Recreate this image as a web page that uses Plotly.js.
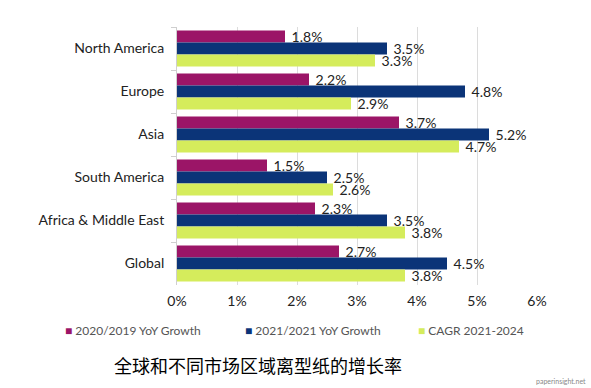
<!DOCTYPE html>
<html><head><meta charset="utf-8">
<script src="https://cdn.plot.ly/plotly-3.0.1.min.js"></script>
<style>html,body{margin:0;padding:0;background:#fff}#chart{width:591px;height:388px}</style>
</head><body><div id="chart"></div>
<script>
const regions = ["North America", "Europe", "Asia", "South America", "Africa & Middle East", "Global"];
const growth2020 = [1.8, 2.2, 3.7, 1.5, 2.3, 2.7];
const growth2021 = [3.5, 4.8, 5.2, 2.5, 3.5, 4.5];
const cagr = [3.3, 2.9, 4.7, 2.6, 3.8, 3.8];
const seriesNames = ["2020/2019 YoY Growth", "2021/2021 YoY Growth", "CAGR 2021-2024"];
const xTicks = [0, 1, 2, 3, 4, 5, 6];
const xTickLabels = ["0%", "1%", "2%", "3%", "4%", "5%", "6%"];
const chartTitle = "全球和不同市场区域离型纸的增长率";

const colors = ["#9b1567", "#0b3478", "#d5ec5c"];
const font = "Lato, 'Open Sans', sans-serif";
function mk(vals, i){
  return {type:"bar", orientation:"h", y:regions, x:vals, name:seriesNames[i],
    marker:{color:colors[i], line:{width:0}},
    text: vals.map(v=>"\u00a0"+v.toFixed(1)+"%"), textposition:"outside", cliponaxis:false, constraintext:"none",
    textfont:{family:font, size:14, color:"#222"}, showlegend:false};
}
const data = [mk(growth2020,0), mk(growth2021,1), mk(cagr,2)];
// legend drawn as annotations (positions in paper coords of the 177..537 x 27..285 plot)
const legendX = [63, 243, 416];
const legendAnn = seriesNames.map((n,i)=>({
  text:"<span style='color:"+colors[i]+"'>■</span> "+n, xref:"paper", yref:"paper",
  x:(legendX[i]-177)/360, y:(285-330)/258, xanchor:"left", yanchor:"middle", showarrow:false,
  font:{family:font, size:12, color:"#555"}
}));
const layout = {
  width:591, height:388, margin:{l:177, r:54, t:27, b:103},
  paper_bgcolor:"#fff", plot_bgcolor:"#fff",
  barmode:"group", bargap:0.16, bargroupgap:0,
  font:{family:font, size:14, color:"#222"},
  xaxis:{range:[0,6], tickvals:xTicks, ticktext:xTickLabels, showgrid:true, gridcolor:"#dcdcdc",
    zeroline:false, showline:false, ticks:"", tickfont:{size:14, color:"#222"}, ticklabelstandoff:6},
  yaxis:{autorange:"reversed", showline:true, linecolor:"#cfcfcf", ticks:"outside", tickson:"boundaries",
    ticklen:5, tickcolor:"#cfcfcf", tickfont:{size:14, color:"#222"}, ticklabelstandoff:9},
  showlegend:false,
  annotations:legendAnn.concat([
    {text:chartTitle, xref:"paper", yref:"paper", x:(258-177)/360, y:(285-365)/258,
      xanchor:"center", yanchor:"middle",
      showarrow:false, font:{family:"'Noto Sans CJK SC', sans-serif", size:18, color:"#000"}},
    {text:"paperinsight.net", xref:"paper", yref:"paper", x:(588-177)/360, y:(285-381)/258,
      xanchor:"right", yanchor:"middle", showarrow:false, font:{family:font, size:7, color:"#888"}}
  ])
};
Plotly.newPlot("chart", data, layout, {displayModeBar:false, staticPlot:true});
</script></body></html>
